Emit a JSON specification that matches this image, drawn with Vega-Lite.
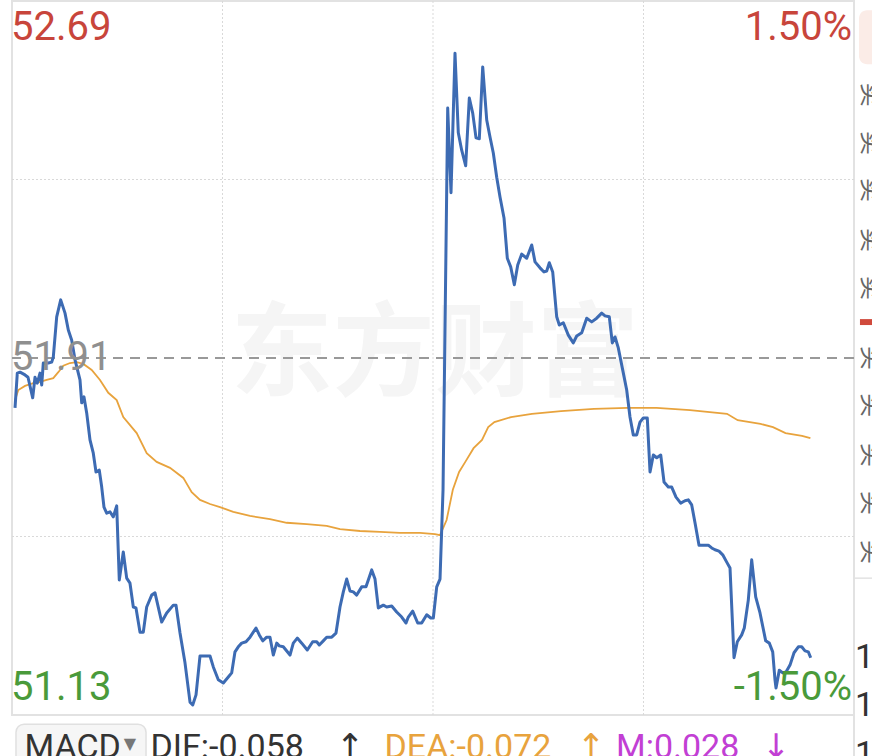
{
  "$schema": "https://vega.github.io/schema/vega-lite/v6.json",
  "width": 842,
  "height": 714,
  "autosize": {"type": "none"},
  "padding": {"left": 12, "top": 1, "right": 18, "bottom": 41},
  "background": "#ffffff",
  "config": {"view": {"stroke": "#e2e2e2", "strokeWidth": 2}},
  "datasets": {
    "blue": [
      {"t":0.86,"p":51.801},{"t":1.51,"p":51.877},{"t":2.28,"p":51.879},{"t":3.71,"p":51.873},{"t":4.56,"p":51.868},
      {"t":5.90,"p":51.823},{"t":6.56,"p":51.868},{"t":7.21,"p":51.855},{"t":7.98,"p":51.877},{"t":8.47,"p":51.851},
      {"t":8.92,"p":51.899},{"t":10.35,"p":51.899},{"t":11.32,"p":51.901},{"t":11.77,"p":51.912},{"t":12.74,"p":52.000},
      {"t":13.88,"p":52.037},{"t":15.11,"p":52.008},{"t":16.05,"p":51.971},{"t":17.02,"p":51.949},{"t":17.96,"p":51.906},
      {"t":18.90,"p":51.877},{"t":19.38,"p":51.862},{"t":19.87,"p":51.812},{"t":20.52,"p":51.825},{"t":21.29,"p":51.790},
      {"t":22.23,"p":51.731},{"t":23.17,"p":51.702},{"t":23.94,"p":51.661},{"t":24.88,"p":51.665},{"t":25.57,"p":51.628},
      {"t":26.22,"p":51.584},{"t":26.99,"p":51.571},{"t":27.93,"p":51.574},{"t":28.87,"p":51.563},{"t":29.84,"p":51.587},
      {"t":30.58,"p":51.425},{"t":31.72,"p":51.486},{"t":32.69,"p":51.429},{"t":33.63,"p":51.418},{"t":34.58,"p":51.366},
      {"t":35.34,"p":51.364},{"t":36.49,"p":51.311},{"t":37.43,"p":51.311},{"t":38.39,"p":51.366},{"t":39.82,"p":51.392},
      {"t":40.76,"p":51.397},{"t":42.67,"p":51.333},{"t":44.10,"p":51.353},{"t":45.98,"p":51.370},{"t":46.75,"p":51.370},
      {"t":47.89,"p":51.309},{"t":49.31,"p":51.244},{"t":50.74,"p":51.158},{"t":51.51,"p":51.152},{"t":52.45,"p":51.174},
      {"t":53.59,"p":51.259},{"t":56.44,"p":51.259},{"t":57.38,"p":51.235},{"t":58.80,"p":51.207},{"t":60.23,"p":51.200},
      {"t":61.65,"p":51.213},{"t":62.62,"p":51.222},{"t":63.56,"p":51.268},{"t":64.50,"p":51.279},{"t":65.47,"p":51.287},
      {"t":66.70,"p":51.290},{"t":67.84,"p":51.300},{"t":69.55,"p":51.320},{"t":70.49,"p":51.305},{"t":71.46,"p":51.292},
      {"t":72.60,"p":51.300},{"t":73.54,"p":51.300},{"t":74.48,"p":51.261},{"t":75.45,"p":51.287},{"t":76.19,"p":51.281},
      {"t":77.33,"p":51.279},{"t":79.24,"p":51.261},{"t":80.18,"p":51.287},{"t":81.32,"p":51.298},{"t":82.58,"p":51.287},
      {"t":84.17,"p":51.272},{"t":85.71,"p":51.290},{"t":86.85,"p":51.290},{"t":87.59,"p":51.283},{"t":88.73,"p":51.292},
      {"t":89.70,"p":51.300},{"t":91.13,"p":51.300},{"t":92.35,"p":51.309},{"t":93.49,"p":51.366},{"t":94.44,"p":51.399},
      {"t":95.40,"p":51.427},{"t":96.34,"p":51.401},{"t":97.29,"p":51.399},{"t":98.25,"p":51.392},{"t":99.68,"p":51.410},
      {"t":100.90,"p":51.410},{"t":101.56,"p":51.425},{"t":102.53,"p":51.447},{"t":103.47,"p":51.427},{"t":104.41,"p":51.364},
      {"t":105.84,"p":51.370},{"t":106.80,"p":51.366},{"t":108.23,"p":51.368},{"t":109.65,"p":51.355},{"t":111.08,"p":51.344},
      {"t":112.31,"p":51.331},{"t":112.96,"p":51.344},{"t":114.21,"p":51.357},{"t":115.64,"p":51.331},{"t":116.78,"p":51.331},
      {"t":118.21,"p":51.349},{"t":119.35,"p":51.342},{"t":120.09,"p":51.342},{"t":121.06,"p":51.410},{"t":122.00,"p":51.427},
      {"t":122.86,"p":51.622},{"t":124.19,"p":52.456},{"t":125.13,"p":52.271},{"t":126.27,"p":52.576},{"t":127.21,"p":52.402},
      {"t":128.18,"p":52.364},{"t":129.32,"p":52.330},{"t":130.35,"p":52.478},{"t":131.32,"p":52.445},{"t":132.26,"p":52.391},
      {"t":133.20,"p":52.389},{"t":134.17,"p":52.546},{"t":135.31,"p":52.430},{"t":136.25,"p":52.393},{"t":137.19,"p":52.358},
      {"t":138.16,"p":52.305},{"t":139.10,"p":52.262},{"t":140.24,"p":52.216},{"t":141.18,"p":52.128},{"t":142.15,"p":52.109},
      {"t":143.18,"p":52.070},{"t":144.15,"p":52.113},{"t":145.29,"p":52.137},{"t":146.71,"p":52.128},{"t":148.14,"p":52.157},
      {"t":149.08,"p":52.120},{"t":150.50,"p":52.107},{"t":151.64,"p":52.098},{"t":152.41,"p":52.100},{"t":153.15,"p":52.118},
      {"t":154.12,"p":52.098},{"t":155.26,"p":52.000},{"t":156.00,"p":51.982},{"t":157.14,"p":51.987},{"t":158.57,"p":51.960},
      {"t":159.99,"p":51.943},{"t":160.96,"p":51.958},{"t":162.39,"p":51.965},{"t":163.81,"p":51.997},{"t":165.24,"p":51.989},
      {"t":166.66,"p":51.997},{"t":168.09,"p":52.008},{"t":169.03,"p":52.002},{"t":170.25,"p":52.000},{"t":171.11,"p":51.943},
      {"t":171.88,"p":51.956},{"t":172.82,"p":51.932},{"t":174.07,"p":51.884},{"t":175.21,"p":51.840},{"t":176.15,"p":51.781},
      {"t":177.09,"p":51.742},{"t":178.06,"p":51.742},{"t":179.00,"p":51.770},{"t":179.94,"p":51.779},{"t":181.08,"p":51.779},
      {"t":181.86,"p":51.661},{"t":182.80,"p":51.698},{"t":183.77,"p":51.692},{"t":184.91,"p":51.698},{"t":185.85,"p":51.639},
      {"t":187.07,"p":51.628},{"t":188.04,"p":51.628},{"t":189.27,"p":51.606},{"t":190.61,"p":51.593},{"t":191.83,"p":51.598},
      {"t":192.77,"p":51.600},{"t":193.74,"p":51.589},{"t":194.68,"p":51.550},{"t":195.82,"p":51.501},{"t":197.05,"p":51.501},
      {"t":198.47,"p":51.501},{"t":199.44,"p":51.495},{"t":200.38,"p":51.491},{"t":201.52,"p":51.488},{"t":202.58,"p":51.480},
      {"t":203.72,"p":51.464},{"t":204.66,"p":51.451},{"t":205.80,"p":51.255},{"t":206.74,"p":51.290},{"t":207.99,"p":51.305},
      {"t":208.73,"p":51.320},{"t":209.87,"p":51.381},{"t":210.84,"p":51.469},{"t":211.98,"p":51.388},{"t":213.21,"p":51.353},
      {"t":214.83,"p":51.292},{"t":215.86,"p":51.287},{"t":216.83,"p":51.268},{"t":217.48,"p":51.207},{"t":217.77,"p":51.189},
      {"t":218.71,"p":51.228},{"t":219.68,"p":51.222},{"t":220.62,"p":51.224},{"t":221.76,"p":51.239},{"t":222.90,"p":51.266},
      {"t":224.13,"p":51.279},{"t":225.09,"p":51.279},{"t":226.03,"p":51.270},{"t":226.97,"p":51.268},{"t":227.66,"p":51.255}
    ],
    "avg": [
      {"t":0.86,"p":51.818},{"t":1.80,"p":51.840},{"t":3.71,"p":51.849},{"t":6.07,"p":51.855},{"t":7.98,"p":51.858},
      {"t":9.89,"p":51.862},{"t":11.77,"p":51.866},{"t":13.20,"p":51.879},{"t":14.62,"p":51.893},{"t":16.53,"p":51.899},
      {"t":18.44,"p":51.901},{"t":20.32,"p":51.897},{"t":22.72,"p":51.884},{"t":25.08,"p":51.862},{"t":27.45,"p":51.834},
      {"t":29.84,"p":51.818},{"t":31.72,"p":51.781},{"t":35.54,"p":51.746},{"t":38.39,"p":51.702},{"t":41.24,"p":51.683},
      {"t":45.04,"p":51.670},{"t":48.83,"p":51.648},{"t":51.22,"p":51.617},{"t":53.59,"p":51.600},{"t":56.44,"p":51.591},
      {"t":59.29,"p":51.584},{"t":63.08,"p":51.574},{"t":67.84,"p":51.565},{"t":73.54,"p":51.558},{"t":78.30,"p":51.550},
      {"t":84.00,"p":51.547},{"t":89.70,"p":51.543},{"t":93.49,"p":51.536},{"t":99.19,"p":51.532},{"t":104.89,"p":51.530},
      {"t":110.60,"p":51.528},{"t":116.30,"p":51.528},{"t":120.57,"p":51.525},{"t":122.00,"p":51.523},{"t":123.88,"p":51.556},
      {"t":125.65,"p":51.622},{"t":127.44,"p":51.661},{"t":129.21,"p":51.683},{"t":131.57,"p":51.713},{"t":133.97,"p":51.731},
      {"t":135.74,"p":51.759},{"t":137.50,"p":51.770},{"t":142.23,"p":51.781},{"t":148.19,"p":51.788},{"t":156.49,"p":51.794},
      {"t":165.89,"p":51.799},{"t":175.44,"p":51.801},{"t":183.74,"p":51.801},{"t":193.26,"p":51.796},{"t":203.80,"p":51.788},
      {"t":206.85,"p":51.774},{"t":213.35,"p":51.766},{"t":216.91,"p":51.759},{"t":220.48,"p":51.746},{"t":225.18,"p":51.740},
      {"t":227.57,"p":51.735}
    ],
    "vgrid": [{"t":60},{"t":120},{"t":180}],
    "hgrid": [{"p":52.30},{"p":51.52}],
    "prev": [{"p":51.91}],
    "watermark": [{"t":120.5,"p":51.912,"label":"东方财富"}],
    "leftLabels": [
      {"t":0,"p":52.631,"label":"52.69","kind":"up"},
      {"t":0,"p":51.910,"label":"51.91","kind":"flat"},
      {"t":0,"p":51.189,"label":"51.13","kind":"down"}
    ],
    "rightLabels": [
      {"t":240,"p":52.631,"label":"1.50%","kind":"up"},
      {"t":240,"p":51.189,"label":"-1.50%","kind":"down"}
    ],
    "macdBox": [{"t":1.14,"t2":38.2,"p":51.110,"p2":51.0}],
    "bottomText": [
      {"t":3.56,"p":51.036,"label":"MACD","kind":"ink"},
      {"t":39.48,"p":51.036,"label":"DIF:-0.058","kind":"ink"},
      {"t":106.18,"p":51.036,"label":"DEA:-0.072","kind":"dea"},
      {"t":172.16,"p":51.036,"label":"M:0.028","kind":"m"}
    ],
    "arrows": [
      {"t":96.34,"p":51.036,"label":"↑","kind":"ink"},
      {"t":165.04,"p":51.036,"label":"↑","kind":"dea"},
      {"t":217.77,"p":51.036,"label":"↓","kind":"m"}
    ],
    "tri": [{"t":33.6,"p":51.067,"label":"▼"}],
    "sideV": [{"t":240,"p":51.13,"p2":51.0}],
    "sideH": [{"t":240,"t2":247,"p":51.429}],
    "pink": [{"t":241.43,"t2":248,"p":52.670,"p2":52.552}],
    "red": [{"t":241.7,"t2":248,"p":51.995,"p2":51.982}],
    "sideGlyphs": [
      {"t":241.14,"p":52.485,"label":"卖"},{"t":241.14,"p":52.380,"label":"卖"},{"t":241.14,"p":52.277,"label":"卖"},
      {"t":241.14,"p":52.168,"label":"卖"},{"t":241.14,"p":52.063,"label":"卖"},
      {"t":241.14,"p":51.910,"label":"买"},{"t":241.14,"p":51.807,"label":"买"},{"t":241.14,"p":51.698,"label":"买"},
      {"t":241.14,"p":51.593,"label":"买"},{"t":241.14,"p":51.486,"label":"买"}
    ],
    "sideNums": [
      {"t":240.29,"p":51.255,"label":"1"},{"t":240.29,"p":51.150,"label":"1"},{"t":240.29,"p":51.043,"label":"1"}
    ]
  },
  "layer": [
    {
      "data": {"name": "watermark"},
      "mark": {"type": "text", "font": "Noto Sans CJK SC", "fontWeight": "bold", "fontSize": 102, "color": "#f5f5f5", "align": "center", "baseline": "middle"},
      "encoding": {
        "x": {"field": "t", "type": "quantitative", "scale": {"domain": [0, 240], "nice": false, "zero": false}, "axis": null},
        "y": {"field": "p", "type": "quantitative", "scale": {"domain": [51.13, 52.69], "nice": false, "zero": false}, "axis": null},
        "text": {"field": "label"}
      }
    },
    {
      "data": {"name": "vgrid"},
      "mark": {"type": "rule", "color": "#d9d9d9", "strokeWidth": 1, "strokeDash": [2, 2]},
      "encoding": {
        "x": {"field": "t", "type": "quantitative", "scale": {"domain": [0, 240], "nice": false, "zero": false}, "axis": null}
      }
    },
    {
      "data": {"name": "hgrid"},
      "mark": {"type": "rule", "color": "#d9d9d9", "strokeWidth": 1, "strokeDash": [2, 2]},
      "encoding": {
        "y": {"field": "p", "type": "quantitative", "scale": {"domain": [51.13, 52.69], "nice": false, "zero": false}, "axis": null}
      }
    },
    {
      "data": {"name": "prev"},
      "mark": {"type": "rule", "color": "#999999", "strokeWidth": 2, "strokeDash": [10, 7]},
      "encoding": {
        "y": {"field": "p", "type": "quantitative", "scale": {"domain": [51.13, 52.69], "nice": false, "zero": false}, "axis": null}
      }
    },
    {
      "data": {"name": "avg"},
      "mark": {"type": "line", "color": "#e8a33d", "strokeWidth": 1.8},
      "encoding": {
        "x": {"field": "t", "type": "quantitative", "scale": {"domain": [0, 240], "nice": false, "zero": false}, "axis": null},
        "y": {"field": "p", "type": "quantitative", "scale": {"domain": [51.13, 52.69], "nice": false, "zero": false}, "axis": null}
      }
    },
    {
      "data": {"name": "blue"},
      "mark": {"type": "line", "color": "#3d6bb3", "strokeWidth": 3, "strokeJoin": "round"},
      "encoding": {
        "x": {"field": "t", "type": "quantitative", "scale": {"domain": [0, 240], "nice": false, "zero": false}, "axis": null},
        "y": {"field": "p", "type": "quantitative", "scale": {"domain": [51.13, 52.69], "nice": false, "zero": false}, "axis": null}
      }
    },
    {
      "data": {"name": "leftLabels"},
      "mark": {"type": "text", "font": "Roboto", "fontSize": 40, "align": "left", "baseline": "middle", "dx": -1},
      "encoding": {
        "x": {"field": "t", "type": "quantitative", "scale": {"domain": [0, 240], "nice": false, "zero": false}, "axis": null},
        "y": {"field": "p", "type": "quantitative", "scale": {"domain": [51.13, 52.69], "nice": false, "zero": false}, "axis": null},
        "text": {"field": "label"},
        "color": {"field": "kind", "type": "nominal", "legend": null, "scale": {"domain": ["up", "flat", "down", "ink", "dea", "m"], "range": ["#c8453b", "#8f8f8f", "#4a9a3a", "#333333", "#e8a33d", "#c23fd4"]}}
      }
    },
    {
      "data": {"name": "rightLabels"},
      "mark": {"type": "text", "font": "Roboto", "fontSize": 40, "align": "right", "baseline": "middle", "dx": -2},
      "encoding": {
        "x": {"field": "t", "type": "quantitative", "scale": {"domain": [0, 240], "nice": false, "zero": false}, "axis": null},
        "y": {"field": "p", "type": "quantitative", "scale": {"domain": [51.13, 52.69], "nice": false, "zero": false}, "axis": null},
        "text": {"field": "label"},
        "color": {"field": "kind", "type": "nominal", "legend": null, "scale": {"domain": ["up", "flat", "down", "ink", "dea", "m"], "range": ["#c8453b", "#8f8f8f", "#4a9a3a", "#333333", "#e8a33d", "#c23fd4"]}}
      }
    },
    {
      "data": {"name": "macdBox"},
      "mark": {"type": "rect", "fill": "#f6f6f6", "stroke": "#e0e0e0", "strokeWidth": 1.5, "cornerRadius": 8},
      "encoding": {
        "x": {"field": "t", "type": "quantitative", "scale": {"domain": [0, 240], "nice": false, "zero": false}, "axis": null},
        "x2": {"field": "t2"},
        "y": {"field": "p", "type": "quantitative", "scale": {"domain": [51.13, 52.69], "nice": false, "zero": false}, "axis": null},
        "y2": {"field": "p2"}
      }
    },
    {
      "data": {"name": "bottomText"},
      "mark": {"type": "text", "font": "Roboto", "fontSize": 34, "align": "left", "baseline": "alphabetic"},
      "encoding": {
        "x": {"field": "t", "type": "quantitative", "scale": {"domain": [0, 240], "nice": false, "zero": false}, "axis": null},
        "y": {"field": "p", "type": "quantitative", "scale": {"domain": [51.13, 52.69], "nice": false, "zero": false}, "axis": null},
        "text": {"field": "label"},
        "color": {"field": "kind", "type": "nominal", "legend": null, "scale": {"domain": ["up", "flat", "down", "ink", "dea", "m"], "range": ["#c8453b", "#8f8f8f", "#4a9a3a", "#333333", "#e8a33d", "#c23fd4"]}}
      }
    },
    {
      "data": {"name": "arrows"},
      "mark": {"type": "text", "font": "DejaVu Sans", "fontSize": 34, "align": "center", "baseline": "alphabetic"},
      "encoding": {
        "x": {"field": "t", "type": "quantitative", "scale": {"domain": [0, 240], "nice": false, "zero": false}, "axis": null},
        "y": {"field": "p", "type": "quantitative", "scale": {"domain": [51.13, 52.69], "nice": false, "zero": false}, "axis": null},
        "text": {"field": "label"},
        "color": {"field": "kind", "type": "nominal", "legend": null, "scale": {"domain": ["up", "flat", "down", "ink", "dea", "m"], "range": ["#c8453b", "#8f8f8f", "#4a9a3a", "#333333", "#e8a33d", "#c23fd4"]}}
      }
    },
    {
      "data": {"name": "tri"},
      "mark": {"type": "text", "font": "DejaVu Sans", "fontSize": 16, "align": "center", "baseline": "middle", "color": "#777777"},
      "encoding": {
        "x": {"field": "t", "type": "quantitative", "scale": {"domain": [0, 240], "nice": false, "zero": false}, "axis": null},
        "y": {"field": "p", "type": "quantitative", "scale": {"domain": [51.13, 52.69], "nice": false, "zero": false}, "axis": null},
        "text": {"field": "label"}
      }
    },
    {
      "data": {"name": "sideV"},
      "mark": {"type": "rule", "color": "#e2e2e2", "strokeWidth": 2},
      "encoding": {
        "x": {"field": "t", "type": "quantitative", "scale": {"domain": [0, 240], "nice": false, "zero": false}, "axis": null},
        "y": {"field": "p", "type": "quantitative", "scale": {"domain": [51.13, 52.69], "nice": false, "zero": false}, "axis": null},
        "y2": {"field": "p2"}
      }
    },
    {
      "data": {"name": "sideH"},
      "mark": {"type": "rule", "color": "#e2e2e2", "strokeWidth": 1.5},
      "encoding": {
        "x": {"field": "t", "type": "quantitative", "scale": {"domain": [0, 240], "nice": false, "zero": false}, "axis": null},
        "x2": {"field": "t2"},
        "y": {"field": "p", "type": "quantitative", "scale": {"domain": [51.13, 52.69], "nice": false, "zero": false}, "axis": null}
      }
    },
    {
      "data": {"name": "pink"},
      "mark": {"type": "rect", "fill": "#fbece7", "cornerRadius": 8},
      "encoding": {
        "x": {"field": "t", "type": "quantitative", "scale": {"domain": [0, 240], "nice": false, "zero": false}, "axis": null},
        "x2": {"field": "t2"},
        "y": {"field": "p", "type": "quantitative", "scale": {"domain": [51.13, 52.69], "nice": false, "zero": false}, "axis": null},
        "y2": {"field": "p2"}
      }
    },
    {
      "data": {"name": "red"},
      "mark": {"type": "rect", "fill": "#d04a3c"},
      "encoding": {
        "x": {"field": "t", "type": "quantitative", "scale": {"domain": [0, 240], "nice": false, "zero": false}, "axis": null},
        "x2": {"field": "t2"},
        "y": {"field": "p", "type": "quantitative", "scale": {"domain": [51.13, 52.69], "nice": false, "zero": false}, "axis": null},
        "y2": {"field": "p2"}
      }
    },
    {
      "data": {"name": "sideGlyphs"},
      "mark": {"type": "text", "font": "Noto Sans CJK SC", "fontSize": 24, "align": "center", "baseline": "middle", "color": "#666666", "angle": 90},
      "encoding": {
        "x": {"field": "t", "type": "quantitative", "scale": {"domain": [0, 240], "nice": false, "zero": false}, "axis": null},
        "y": {"field": "p", "type": "quantitative", "scale": {"domain": [51.13, 52.69], "nice": false, "zero": false}, "axis": null},
        "text": {"field": "label"},
        "xOffset": {"value": 12}
      }
    },
    {
      "data": {"name": "sideNums"},
      "mark": {"type": "text", "font": "Roboto", "fontSize": 34, "align": "left", "baseline": "middle", "color": "#333333"},
      "encoding": {
        "x": {"field": "t", "type": "quantitative", "scale": {"domain": [0, 240], "nice": false, "zero": false}, "axis": null},
        "y": {"field": "p", "type": "quantitative", "scale": {"domain": [51.13, 52.69], "nice": false, "zero": false}, "axis": null},
        "text": {"field": "label"}
      }
    }
  ]
}
